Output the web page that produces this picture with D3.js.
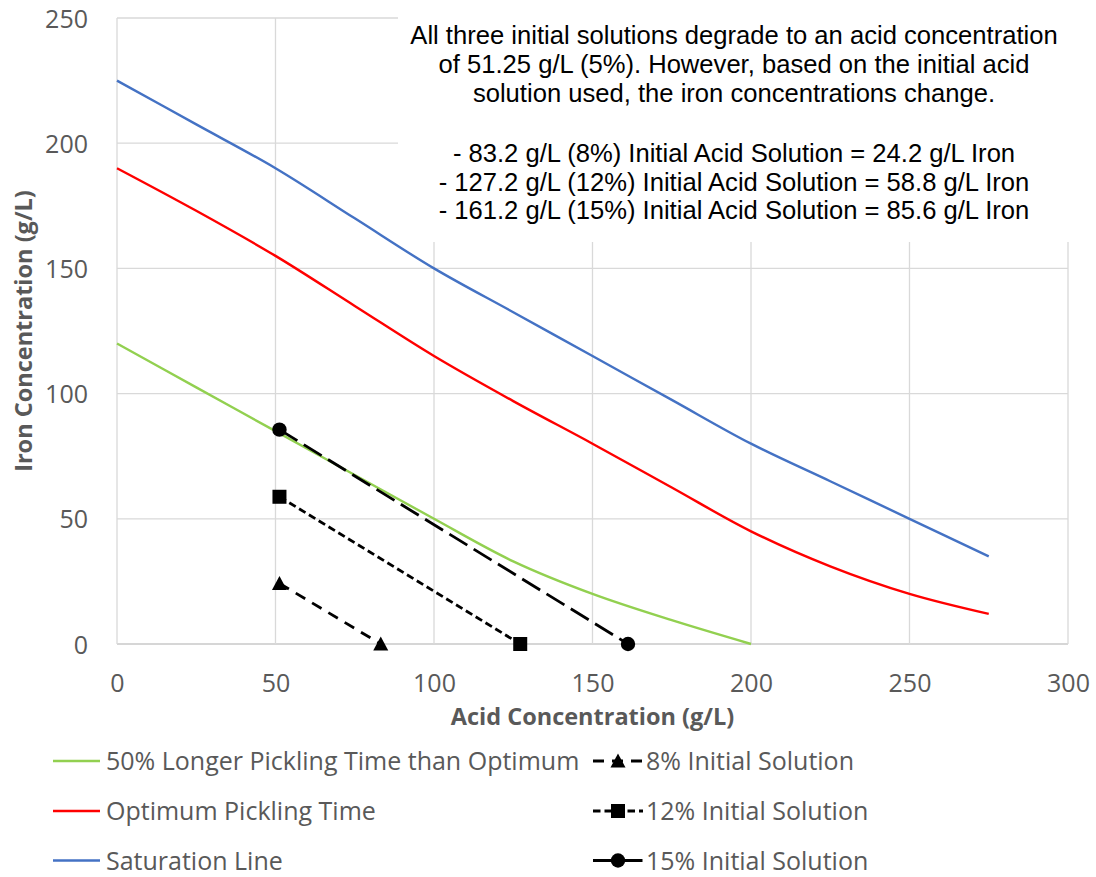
<!DOCTYPE html>
<html>
<head>
<meta charset="utf-8">
<script src="https://cdn.jsdelivr.net/npm/d3@7"></script>
<style>
  html, body { margin: 0; padding: 0; background: #fff; }
  svg { display: block; }
</style>
</head>
<body>
<svg id="chart" width="1096" height="877"></svg>
<script>
// ---------------- data ----------------
const xTicks = [0, 50, 100, 150, 200, 250, 300];
const yTicks = [0, 50, 100, 150, 200, 250];

const curveX = [0, 25, 50, 75, 100, 125, 150, 175, 200, 225, 250, 275];
const saturationY = [225, 207.5, 190, 170, 150, 132.5, 115, 97.5, 80, 65, 50, 35];
const optimumY = [190, 173, 155, 135, 115, 97, 80, 62.5, 45, 31, 20, 12];

const longerX = [0, 25, 50, 75, 100, 125, 150, 175, 200];
const longerY = [120, 102.5, 85, 67.5, 50, 33, 20, 9.5, 0];

const sol8X = [51.25, 83.2];   const sol8Y = [24.2, 0];
const sol12X = [51.25, 127.2]; const sol12Y = [58.8, 0];
const sol15X = [51.25, 161.2]; const sol15Y = [85.6, 0];

const seriesNames = [
  "50% Longer Pickling Time than Optimum",
  "Optimum Pickling Time",
  "Saturation Line",
  "8% Initial Solution",
  "12% Initial Solution",
  "15% Initial Solution"
];

const noteLines = [
  "All three initial solutions degrade to an acid concentration",
  "of 51.25 g/L (5%). However, based on the initial acid",
  "solution used, the iron concentrations change.",
  "",
  "- 83.2 g/L (8%) Initial Acid Solution = 24.2 g/L Iron",
  "- 127.2 g/L (12%) Initial Acid Solution = 58.8 g/L Iron",
  "- 161.2 g/L (15%) Initial Acid Solution = 85.6 g/L Iron"
];

const xTitle = "Acid Concentration (g/L)";
const yTitle = "Iron Concentration (g/L)";

// ---------------- layout ----------------
const L = 117, R = 1068, T = 18, B = 644;
const svg = d3.select("#chart");
const x = d3.scaleLinear().domain([0, 300]).range([L, R]);
const y = d3.scaleLinear().domain([0, 250]).range([B, T]);

const tickFont = "'Open Sans', 'Noto Sans', sans-serif";
const gray = "#595959";

// gridlines
const g = svg.append("g");
g.selectAll("line.h").data(yTicks).join("line")
  .attr("x1", L).attr("x2", R)
  .attr("y1", d => y(d)).attr("y2", d => y(d))
  .attr("stroke", d => d === 0 ? "#c9c9c9" : "#d9d9d9").attr("stroke-width", 1.3);
g.selectAll("line.v").data(xTicks).join("line")
  .attr("x1", d => x(d)).attr("x2", d => x(d))
  .attr("y1", T).attr("y2", B)
  .attr("stroke", "#d9d9d9").attr("stroke-width", 1.3);

// annotation box (covers grid)
svg.append("rect").attr("x", 398).attr("y", 0).attr("width", 690).attr("height", 242).attr("fill", "#fff");
const noteBase = [43.5, 73, 102, 131.5, 161.5, 191, 219];
svg.append("g").selectAll("text").data(noteLines).join("text")
  .attr("x", 734).attr("y", (d, i) => noteBase[i])
  .attr("text-anchor", "middle")
  .attr("font-family", "'Liberation Sans', Arial, sans-serif")
  .attr("font-size", 25.6).attr("fill", "#000")
  .text(d => d);

// axis labels
const ax = d3.axisLeft(y).tickValues(yTicks).tickSize(0).tickPadding(0);
const yAxisG = svg.append("g").attr("transform", `translate(88,0)`).call(ax);
yAxisG.select(".domain").remove();
yAxisG.selectAll("text").attr("font-family", tickFont).attr("font-size", 25).attr("fill", gray)
  .attr("dy", null).attr("dominant-baseline", "alphabetic").attr("y", 9).attr("x", 0).attr("text-anchor", "end");

const bx = d3.axisBottom(x).tickValues(xTicks).tickSize(0).tickPadding(0);
const xAxisG = svg.append("g").attr("transform", `translate(0,692)`).call(bx);
xAxisG.select(".domain").remove();
xAxisG.selectAll("text").attr("font-family", tickFont).attr("font-size", 25).attr("fill", gray)
  .attr("dy", null).attr("y", 0).attr("dominant-baseline", "alphabetic");

// titles
svg.append("text").attr("x", (L + R) / 2).attr("y", 725).attr("text-anchor", "middle")
  .attr("font-family", tickFont).attr("font-weight", "bold").attr("font-size", 23.5).attr("fill", gray)
  .text(xTitle);
svg.append("text").attr("transform", `translate(32,${(T + B) / 2}) rotate(-90)`).attr("text-anchor", "middle")
  .attr("font-family", tickFont).attr("font-weight", "bold").attr("font-size", 23.5).attr("fill", gray)
  .text(yTitle);

// curves
const line = d3.line().x(d => x(d[0])).y(d => y(d[1])).curve(d3.curveCatmullRom.alpha(0.5));
const straight = d3.line().x(d => x(d[0])).y(d => y(d[1]));
const zip = (a, b) => a.map((v, i) => [v, b[i]]);

const curves = [
  { pts: zip(longerX, longerY), color: "#92d050" },
  { pts: zip(curveX, optimumY), color: "#ff0000" },
  { pts: zip(curveX, saturationY), color: "#4472c4" }
];
svg.append("g").selectAll("path").data(curves).join("path")
  .attr("d", d => line(d.pts)).attr("fill", "none")
  .attr("stroke", d => d.color).attr("stroke-width", 2.4);

const sols = [
  { pts: zip(sol8X, sol8Y), dash: "11,8", shape: "tri" },
  { pts: zip(sol12X, sol12Y), dash: "7.5,4", shape: "sq" },
  { pts: zip(sol15X, sol15Y), dash: "21,7.5", shape: "circ" }
];

function marker(sel, shape, cx, cy) {
  if (shape === "circ") {
    sel.append("circle").attr("cx", cx).attr("cy", cy).attr("r", 7.2).attr("fill", "#000");
  } else if (shape === "sq") {
    sel.append("rect").attr("x", cx - 7).attr("y", cy - 7).attr("width", 14).attr("height", 14).attr("fill", "#000");
  } else {
    sel.append("path").attr("d", `M${cx},${cy - 7.5}L${cx + 7.5},${cy + 6.5}L${cx - 7.5},${cy + 6.5}Z`).attr("fill", "#000");
  }
}

const sg = svg.append("g");
sols.forEach(s => {
  sg.append("path").attr("d", straight(s.pts)).attr("fill", "none")
    .attr("stroke", "#000").attr("stroke-width", 2.8).attr("stroke-dasharray", s.dash);
  s.pts.forEach(p => marker(sg, s.shape, x(p[0]), y(p[1])));
});

// legend
const lg = svg.append("g");
const rowBase = [770, 820, 869.5];
const leftItems = [curves[0], curves[1], curves[2]];
leftItems.forEach((c, i) => {
  const ly = rowBase[i] - 9;
  lg.append("line").attr("x1", 53).attr("x2", 100).attr("y1", ly).attr("y2", ly)
    .attr("stroke", c.color).attr("stroke-width", 2.4);
  lg.append("text").attr("x", 106).attr("y", rowBase[i])
    .attr("font-family", tickFont).attr("font-size", 25).attr("fill", gray).text(seriesNames[i]);
});
sols.forEach((s, i) => {
  const ly = rowBase[i] - 9;
  lg.append("line").attr("x1", 593).attr("x2", 643).attr("y1", ly).attr("y2", ly)
    .attr("stroke", "#000").attr("stroke-width", 2.8).attr("stroke-dasharray", s.dash);
  marker(lg, s.shape, 618, ly);
  lg.append("text").attr("x", 646).attr("y", rowBase[i])
    .attr("font-family", tickFont).attr("font-size", 25).attr("fill", gray).text(seriesNames[i + 3]);
});
</script>
</body>
</html>
